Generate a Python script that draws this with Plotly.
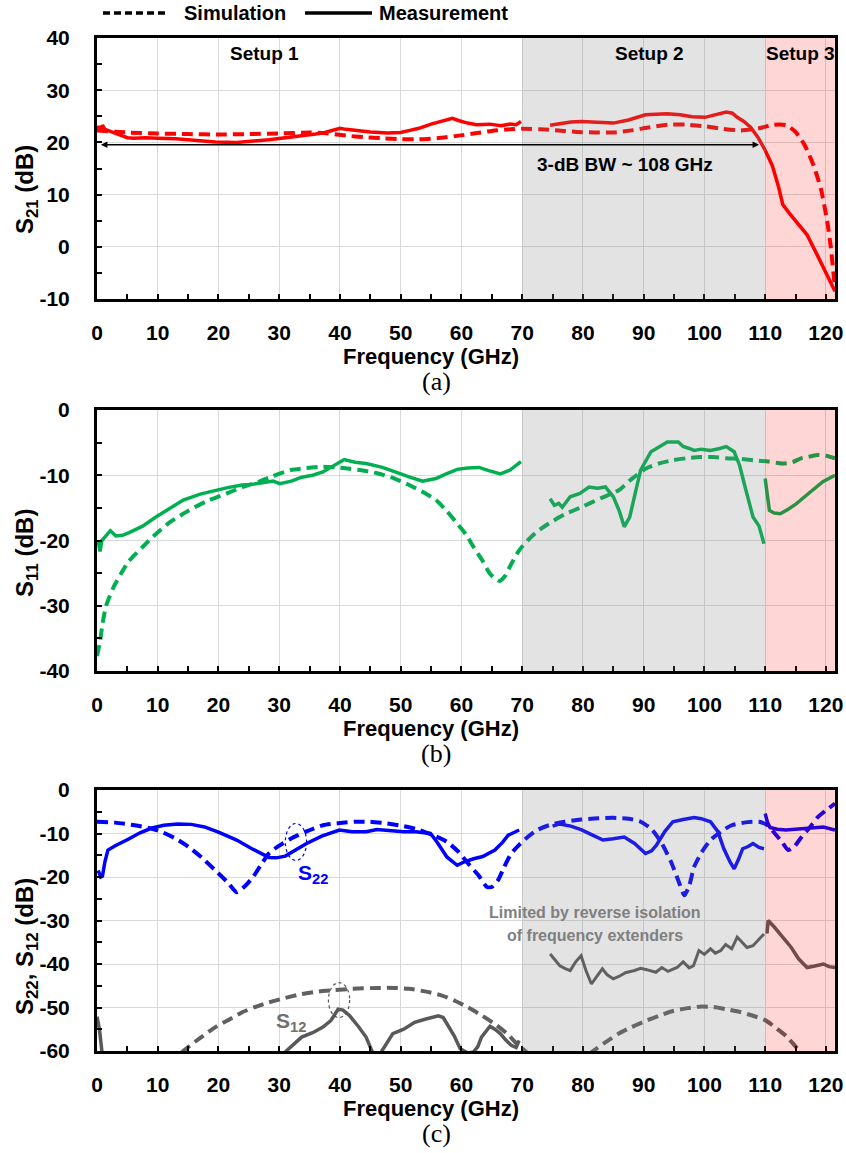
import plotly.graph_objects as go

# ---------------- data ----------------
# (a) S21
s21_meas_f1 = [0, 0.3, 0.6, 0.9, 1.3, 2, 3, 4, 5, 6, 8, 10, 13, 16, 19.5, 23, 26, 28.3, 31, 33.7, 36, 37.5, 39, 40, 41, 42.5, 45, 47.8, 50, 51.5, 53, 55, 57, 58.5, 59.5, 61, 62.5, 64.7, 66.5, 68, 69, 69.8]
s21_meas_v1 = [22.3, 23.1, 22.2, 23.3, 22.5, 22.2, 21.8, 21.2, 20.9, 20.8, 20.9, 20.8, 20.7, 20.4, 20.1, 20.0, 20.2, 20.5, 20.9, 21.2, 21.6, 21.9, 22.3, 22.7, 22.5, 22.3, 22.0, 21.8, 21.9, 22.3, 22.7, 23.5, 24.1, 24.6, 24.2, 23.7, 23.4, 23.5, 23.2, 23.5, 23.4, 24.0]
s21_meas_f2 = [74.6, 76, 78, 79.7, 82, 85, 87.5, 90.3, 92, 93.9, 96, 98, 100.1, 101.5, 103.6, 104.6, 105.4, 106.5, 107.6, 108.8, 110]
s21_meas_v2 = [23.3, 23.6, 23.9, 24.0, 23.8, 23.7, 24.3, 25.3, 25.4, 25.5, 25.3, 24.9, 24.8, 25.2, 25.8, 25.6, 24.8, 24.0, 22.9, 21.0, 18.5]
s21_meas_f3 = [110, 111.2, 112.2, 112.9, 114, 115.5, 116.9, 118.5, 120, 121.5]
s21_meas_v3 = [18.5, 15.5, 11.5, 8.1, 6.4, 4.3, 2.3, -1.4, -5.0, -8.5]
s21_sim_f = [0, 5, 10, 15, 20, 25, 30, 35, 38, 41, 44, 47, 50, 53, 56, 59, 62, 65, 68, 70, 73, 76, 79, 82, 85, 88, 91, 94, 97, 100, 103, 106, 109, 111.5, 113.5, 115, 116.5, 118, 119.2, 120.2, 120.8, 121.5]
s21_sim_v = [22.3, 21.9, 21.7, 21.6, 21.5, 21.6, 21.7, 21.9, 21.7, 21.3, 21.0, 20.8, 20.6, 20.6, 20.8, 21.2, 21.7, 22.2, 22.5, 22.6, 22.5, 22.3, 22.0, 21.9, 21.9, 22.3, 22.9, 23.4, 23.4, 23.1, 22.6, 22.3, 22.7, 23.4, 23.3, 22.0, 19.5, 15.5, 11.0, 5.0, 0.0, -8.0]

# (b) S11
s11_meas_f1 = [0.2, 0.5, 0.8, 1.3, 2.2, 3.1, 4.2, 5.3, 7.5, 9.7, 12, 14.2, 17, 19.5, 21.5, 23.9, 25.5, 27.5, 29, 30.1, 32, 33.7, 35.5, 37.2, 39, 40.7, 42.5, 44.3, 47, 49.6, 51.5, 53.6, 55.8, 57.5, 59.3, 61, 62.9, 64.5, 66.4, 68, 69.8]
s11_meas_v1 = [-20.0, -21.7, -20.0, -19.5, -18.5, -19.3, -19.2, -18.8, -17.8, -16.4, -15.0, -13.8, -12.9, -12.3, -11.9, -11.5, -11.4, -11.1, -10.9, -11.3, -10.9, -10.3, -10.0, -9.5, -8.5, -7.6, -8.0, -8.2, -8.8, -9.7, -10.3, -10.9, -10.5, -9.8, -9.1, -8.9, -8.8, -9.3, -9.8, -9.2, -7.9]
s11_meas_f2 = [74.6, 75.3, 76.0, 76.6, 77.9, 79.5, 81.0, 82.4, 83.7, 85.0, 86.0, 86.8, 87.7, 88.6, 89.5, 91.2, 93.0, 93.9, 95.7, 96.5, 97.5, 98.3, 99.5, 101.0, 102.5, 103.6, 104.9, 105.8, 106.7, 108.0, 109.0, 109.8]
s11_meas_v2 = [-13.6, -14.6, -14.3, -14.9, -13.3, -12.8, -11.8, -12.0, -11.8, -13.3, -15.5, -17.9, -16.4, -12.5, -9.2, -6.4, -5.3, -4.9, -4.9, -5.6, -5.9, -6.2, -6.0, -6.2, -5.9, -5.6, -6.4, -8.5, -11.8, -16.4, -17.8, -20.5]
s11_meas_f3 = [110, 110.3, 110.7, 111.5, 112.5, 113.8, 115.1, 116.5, 117.8, 119.5, 121.5]
s11_meas_v3 = [-10.5, -13.0, -15.4, -15.8, -15.9, -15.2, -14.4, -13.3, -12.3, -11.0, -10.0]
s11_sim_f = [0, 0.5, 0.9, 1.5, 2.7, 4, 5.3, 7.5, 9.7, 12, 15.1, 18, 21.3, 24, 26.6, 29, 31.9, 34.5, 37.2, 39.5, 41.6, 44, 46.1, 49, 51.4, 53.5, 55.8, 57.5, 59.3, 60.7, 62, 63.4, 64.7, 65.5, 66.3, 67.2, 68.2, 69.5, 70.9, 72.5, 74.4, 77, 79.7, 83, 85.9, 88, 90.3, 92.5, 94.8, 97, 99.2, 101.5, 103.6, 106, 108, 110.5, 112.9, 114.5, 115.9, 117.5, 118.7, 120, 121.5]
s11_sim_v = [-37.7, -35.5, -32.8, -30.0, -27.2, -25.0, -23.1, -21.0, -19.0, -17.2, -15.4, -14.0, -12.8, -11.8, -11.0, -10.1, -9.2, -8.9, -8.7, -8.8, -9.0, -9.3, -9.7, -10.5, -11.5, -12.5, -13.8, -15.4, -17.4, -19.0, -21.0, -23.0, -25.1, -25.8, -26.2, -25.4, -23.6, -21.5, -20.0, -18.6, -17.4, -16.0, -14.9, -13.5, -12.3, -10.6, -9.0, -8.2, -7.7, -7.4, -7.2, -7.2, -7.4, -7.5, -7.7, -7.9, -8.2, -8.0, -7.4, -7.1, -6.9, -7.0, -7.4]

# (c) S22
s22_meas_f1 = [0.2, 0.6, 0.9, 1.3, 1.8, 3, 5.3, 7, 8.9, 11, 13.3, 15.5, 17.7, 20, 23, 25.5, 28.3, 29.5, 31, 32.5, 34.5, 37, 39.9, 42, 44.3, 46.1, 48, 50.5, 52.5, 54.9, 56, 57.6, 59.3, 60.5, 62, 63.5, 65.5, 66.8, 67.7, 69.5]
s22_meas_v1 = [-18.5, -20.0, -19.8, -16.5, -13.8, -12.8, -11.2, -9.9, -8.8, -8.1, -7.8, -7.9, -8.5, -9.7, -11.5, -13.5, -15.5, -15.6, -15.2, -14.0, -12.3, -10.6, -9.2, -9.6, -9.6, -9.1, -9.4, -9.6, -9.6, -10.0, -12.0, -15.4, -17.3, -16.5, -15.8, -15.3, -13.8, -12.0, -10.4, -9.2]
s22_meas_f2 = [75, 76.2, 78, 79.7, 81.5, 83.3, 85, 86.8, 88.5, 90.3, 91.3, 92.1, 93.5, 94.8, 96.5, 98.3, 99.5, 101, 102.2, 103.2, 104.2, 104.9, 105.6, 106.3, 107.2, 108, 109, 109.8]
s22_meas_v2 = [-8.3, -7.8, -8.3, -9.1, -10.3, -11.5, -11.2, -10.8, -12.3, -14.6, -14.0, -12.7, -9.5, -7.3, -6.8, -6.3, -6.6, -7.3, -9.5, -13.5, -16.5, -18.1, -16.0, -13.5, -13.0, -12.3, -13.2, -13.5]
s22_meas_f3 = [110, 110.4, 110.8, 112, 113.4, 115, 116.9, 118.5, 119.6, 121.5]
s22_meas_v3 = [-5.4, -7.5, -8.6, -9.0, -9.2, -9.0, -8.8, -8.5, -8.5, -9.2]
s22_sim_f = [0, 3, 6.2, 8.5, 10.6, 13, 15.1, 17.3, 19.5, 21.5, 23, 24.3, 25.7, 27, 28.3, 30, 31.9, 34.5, 37.2, 40, 42.5, 45, 47.8, 50.5, 53.1, 55.5, 57.6, 59.5, 61.1, 62.8, 64.2, 65, 66, 67, 68.2, 69.5, 70.9, 72.5, 74.4, 77, 79.7, 82.5, 85, 87.5, 89.5, 91.3, 93, 94.5, 95.7, 96.7, 97.5, 98.3, 99.6, 101, 102.8, 104.5, 106.5, 109, 110.5, 111.6, 112.8, 113.8, 114.8, 116, 117.4, 118.7, 120, 121.5]
s22_sim_v = [-7.3, -7.5, -8.1, -8.7, -9.6, -11.2, -13.1, -15.6, -18.5, -21.2, -23.5, -22.2, -20.0, -17.2, -14.6, -12.8, -11.2, -9.5, -8.1, -7.6, -7.3, -7.3, -7.7, -8.3, -9.2, -10.5, -11.9, -14.2, -16.9, -19.6, -22.3, -22.3, -20.8, -17.8, -14.6, -12.6, -10.8, -9.2, -8.1, -7.3, -6.8, -6.5, -6.4, -6.6, -7.3, -9.0, -12.3, -16.5, -20.8, -24.2, -22.0, -17.7, -14.2, -11.5, -9.5, -8.1, -7.5, -7.3, -8.2, -10.0, -12.0, -13.8, -13.0, -10.8, -8.5, -6.2, -4.7, -3.1]

# (c) S12
s12_meas_f1 = [0, 0.4, 0.8, 1.2, 3, 15, 30, 31, 32.5, 33.7, 35.5, 37.2, 38.5, 39.7, 40.5, 41.6, 43, 44.3, 45.2, 46, 46.9, 47.8, 48.7, 50.5, 52.3, 54, 56.2, 57, 57.6, 58.8, 59.8, 61.1, 62, 62.7, 63.3, 64, 64.7, 65.5, 66.4, 67.3, 68.2, 69, 69.5]
s12_meas_v1 = [-52.1, -55, -60, -66, -68, -68, -66, -60.2, -58.3, -56.8, -55.8, -54.5, -53.0, -50.4, -50.6, -51.9, -54.3, -56.8, -59.8, -62, -60, -58, -56, -55, -53.4, -52.7, -51.9, -52.3, -53.8, -56.5, -59.5, -60.5, -60.2, -59, -56.8, -55.4, -54.3, -55, -56, -57.5, -58.7, -59.2, -57.6]
s12_meas_f2 = [74.6, 75.3, 76.2, 77, 77.9, 78.8, 79.7, 80.5, 81.4, 82.2, 83.2, 84, 85, 86, 87, 88.5, 89.5, 90.5, 92, 93, 94, 95.5, 96.5, 97.5, 98.2, 99.1, 100, 101, 101.8, 102.7, 103.5, 104.5, 105.4, 106.2, 107, 108, 108.8, 109.8]
s12_meas_v2 = [-37.7, -39.0, -40.4, -41.0, -41.5, -39.5, -38.1, -41.5, -44.6, -43.0, -41.1, -42.5, -43.4, -42.8, -42.0, -41.5, -41.0, -41.3, -41.9, -40.8, -41.7, -40.8, -39.5, -40.9, -40.4, -36.9, -37.8, -36.5, -37.5, -36.9, -35.5, -36.5, -33.8, -35.0, -36.2, -35.8, -34.5, -33.1]
s12_meas_f3 = [110.3, 110.5, 111.5, 112.5, 113.4, 114.3, 115.5, 116.9, 118, 119.6, 120.5, 121.5]
s12_meas_v3 = [-33, -30, -31.5, -33.1, -34.8, -36.2, -38.8, -40.8, -40.5, -40.0, -40.6, -40.8]
s12_sim_f = [10, 14.2, 17, 19.5, 22, 23.9, 26, 28.3, 31, 33.7, 36.5, 39, 42, 46.1, 49, 51.4, 54, 56.7, 59, 61.1, 63.3, 65.5, 67.5, 69.1, 70.5, 71.7, 76, 81.5, 83.5, 85.9, 88, 90.3, 92.5, 94.8, 97, 99.2, 101.5, 103.6, 106, 108, 110, 111.6, 113.5, 115.1, 116.5, 118]
s12_sim_v = [-66, -60, -57.0, -54.5, -52.6, -51.1, -49.9, -48.8, -47.8, -46.9, -46.3, -46.0, -45.7, -45.5, -45.5, -45.7, -46.3, -47.2, -48.5, -50, -51.8, -53.8, -56, -58.3, -60, -61.4, -66, -60.2, -58.2, -56, -54.5, -53.1, -51.9, -50.8, -50.2, -49.8, -49.9, -50.4, -51.1, -51.9, -52.9, -54.5, -56.6, -59.1, -61, -66]

x_ticks = [0, 10, 20, 30, 40, 50, 60, 70, 80, 90, 100, 110, 120]
y_ticks = [[-10, 0, 10, 20, 30, 40], [-40, -30, -20, -10, 0], [-60, -50, -40, -30, -20, -10, 0]]
setup_edges = [0, 70, 110, 121.5]
setup_labels = ["Setup 1", "Setup 2", "Setup 3"]
panel_labels = ["(a)", "(b)", "(c)"]
y_ranges = [[-10, 40], [-40, 0], [-60, 0]]
y_titles = ["S<sub>21</sub> (dB)", "S<sub>11</sub> (dB)", "S<sub>22</sub>, S<sub>12</sub> (dB)"]

# ---------------- style ----------------
W, H = 846, 1153
BOLD = "Liberation Sans, Arial, sans-serif"
SERIF = "Liberation Serif, Times New Roman, serif"
RED, GREEN, BLUE, GRAY_S, GRAY_D = "#ff0000", "#00b050", "#0000ff", "#595959", "#606060"
DASH = "11px,6px"

def py(px):
    return 1 - px / H

x_dom = [97 / W, 835 / W]
panels_px = [(38, 299), (410, 671), (790, 1051)]

fig = go.Figure()

def line(ax, f, v, color, dash=None, width=3.5, smooth=False):
    fig.add_trace(go.Scatter(
        x=f, y=v, mode="lines",
        line=dict(color=color, width=width, dash=dash if dash else "solid",
                  shape="spline" if smooth else "linear", smoothing=0.6),
        xaxis="x" + ("" if ax == 1 else str(ax)),
        yaxis="y" + ("" if ax == 1 else str(ax)),
        showlegend=False, hoverinfo="skip"))

# panel a
line(1, s21_sim_f, s21_sim_v, RED, DASH, 4, True)
line(1, s21_meas_f1, s21_meas_v1, RED)
line(1, s21_meas_f2, s21_meas_v2, RED)
line(1, s21_meas_f3, s21_meas_v3, RED)
# panel b
line(2, s11_sim_f, s11_sim_v, GREEN, DASH, 4, True)
line(2, s11_meas_f1, s11_meas_v1, GREEN)
line(2, s11_meas_f2, s11_meas_v2, GREEN)
line(2, s11_meas_f3, s11_meas_v3, GREEN)
# panel c
line(3, s22_sim_f, s22_sim_v, BLUE, DASH, 4, True)
line(3, s22_meas_f1, s22_meas_v1, BLUE)
line(3, s22_meas_f2, s22_meas_v2, BLUE)
line(3, s22_meas_f3, s22_meas_v3, BLUE)
line(3, s12_sim_f, s12_sim_v, GRAY_D, DASH, 4, True)
line(3, s12_meas_f1, s12_meas_v1, GRAY_S)
line(3, s12_meas_f2, s12_meas_v2, GRAY_S, width=3)
line(3, s12_meas_f3, s12_meas_v3, GRAY_S)

layout = dict(width=W, height=H, margin=dict(l=0, r=0, t=0, b=0),
              paper_bgcolor="white", plot_bgcolor="white", showlegend=False)

def ann(**kw):
    d = dict(showarrow=False, xanchor="center", yanchor="middle")
    d.update(kw)
    return d

shapes = []
annotations = []
for i, (top, bot) in enumerate(panels_px):
    k = "" if i == 0 else str(i + 1)
    layout["xaxis" + k] = dict(
        domain=x_dom, anchor="y" + k, range=[0, 121.5],
        tickvals=x_ticks, ticktext=[str(t) for t in x_ticks],
        ticks="inside", ticklen=5, tickwidth=2, tickcolor="black",
        minor=dict(dtick=5, tick0=0, ticks="inside", ticklen=5, tickwidth=2, tickcolor="black", showgrid=False),
        showgrid=True, gridcolor="#d9d9d9", gridwidth=1,
        showline=True, linecolor="black", linewidth=3, mirror=True,
        tickfont=dict(family=BOLD, size=21, color="black", weight="bold"),
        ticklabelstandoff=13, automargin=False, zeroline=False, fixedrange=True)
    layout["yaxis" + k] = dict(
        domain=[py(bot), py(top)], anchor="x" + k, range=y_ranges[i],
        tickvals=y_ticks[i], ticktext=[str(t) for t in y_ticks[i]],
        ticks="inside", ticklen=5, tickwidth=2, tickcolor="black",
        minor=dict(dtick=5, ticks="inside", ticklen=5, tickwidth=2, tickcolor="black", showgrid=False),
        showgrid=True, gridcolor="#d9d9d9", gridwidth=1,
        showline=True, linecolor="black", linewidth=3, mirror=True,
        tickfont=dict(family=BOLD, size=21, color="black", weight="bold"),
        ticklabelstandoff=20, automargin=False, zeroline=False, fixedrange=True)
    xr = "x" + k
    yr = "y" + k
    shapes.append(dict(type="rect", xref=xr, yref=yr + " domain", x0=setup_edges[1], x1=setup_edges[2],
                       y0=0, y1=1, fillcolor="rgba(128,128,128,0.22)", line=dict(width=0), layer="above"))
    shapes.append(dict(type="rect", xref=xr, yref=yr + " domain", x0=setup_edges[2], x1=setup_edges[3],
                       y0=0, y1=1, fillcolor="rgba(255,0,0,0.16)", line=dict(width=0), layer="above"))
    annotations.append(ann(text="Frequency (GHz)", xref="paper", yref="paper", x=431 / W, y=py(bot + 57),
                           font=dict(family=BOLD, size=22, color="black", weight="bold")))
    annotations.append(ann(text=panel_labels[i], xref="paper", yref="paper", x=436 / W, y=py(bot + 82),
                           font=dict(family=SERIF, size=26, color="black")))

# y titles
y_title_centers = [190, 553, 947]
for i in range(3):
    annotations.append(ann(text=y_titles[i], xref="paper", yref="paper", x=26 / W, y=py(y_title_centers[i]),
                           textangle=-90, font=dict(family=BOLD, size=24, color="black", weight="bold")))

# setup labels (panel a)
setup_x = [27.5, 91, 115.9]
for lbl, sx in zip(setup_labels, setup_x):
    annotations.append(ann(text=lbl, xref="x", yref="y", x=sx, y=37.0,
                           font=dict(family=BOLD, size=19, color="black", weight="bold")))
annotations.append(ann(text="3-dB BW ~ 108 GHz", xref="x", yref="y", x=87, y=15.7,
                       font=dict(family=BOLD, size=19, color="black", weight="bold")))
annotations.append(dict(text="", xref="x", yref="y", x=109, y=19.55, axref="x", ayref="y", ax=0.4, ay=19.55,
                        showarrow=True, arrowhead=2, startarrowhead=2, arrowside="end+start",
                        arrowwidth=1.3, arrowsize=1, startarrowsize=1, arrowcolor="black"))

# panel c labels
annotations.append(ann(text="S<sub>22</sub>", xref="x3", yref="y3", x=35.6, y=-19.2,
                       font=dict(family=BOLD, size=21, color=BLUE, weight="bold")))
annotations.append(ann(text="S<sub>12</sub>", xref="x3", yref="y3", x=32, y=-53.3,
                       font=dict(family=BOLD, size=21, color="#707070", weight="bold")))
annotations.append(ann(text="Limited by reverse isolation", xref="x3", yref="y3", x=82, y=-28.1,
                       font=dict(family=BOLD, size=16, color="#7f7f7f", weight="bold")))
annotations.append(ann(text="of frequency extenders", xref="x3", yref="y3", x=82, y=-33.5,
                       font=dict(family=BOLD, size=16, color="#7f7f7f", weight="bold")))
shapes.append(dict(type="circle", xref="x3", yref="y3", x0=31, x1=34.5, y0=-16.2, y1=-7.7,
                   line=dict(color=BLUE, width=1.2, dash="dot"), layer="above"))
shapes.append(dict(type="circle", xref="x3", yref="y3", x0=38.1, x1=41.6, y0=-52.3, y1=-44.3,
                   line=dict(color="#555555", width=1.2, dash="dot"), layer="above"))

# top legend
shapes.append(dict(type="line", xref="paper", yref="paper", x0=103 / W, x1=167 / W, y0=py(13), y1=py(13),
                   line=dict(color="black", width=3.5, dash="7px,4px")))
shapes.append(dict(type="line", xref="paper", yref="paper", x0=305 / W, x1=372 / W, y0=py(13), y1=py(13),
                   line=dict(color="black", width=3.5)))
annotations.append(ann(text="Simulation", xref="paper", yref="paper", x=182 / W, y=py(13), xanchor="left",
                       font=dict(family=BOLD, size=20, color="black", weight="bold")))
annotations.append(ann(text="Measurement", xref="paper", yref="paper", x=377 / W, y=py(13), xanchor="left",
                       font=dict(family=BOLD, size=20, color="black", weight="bold")))

layout["shapes"] = shapes
layout["annotations"] = annotations
fig.update_layout(**layout)
fig.write_html("out.html")
